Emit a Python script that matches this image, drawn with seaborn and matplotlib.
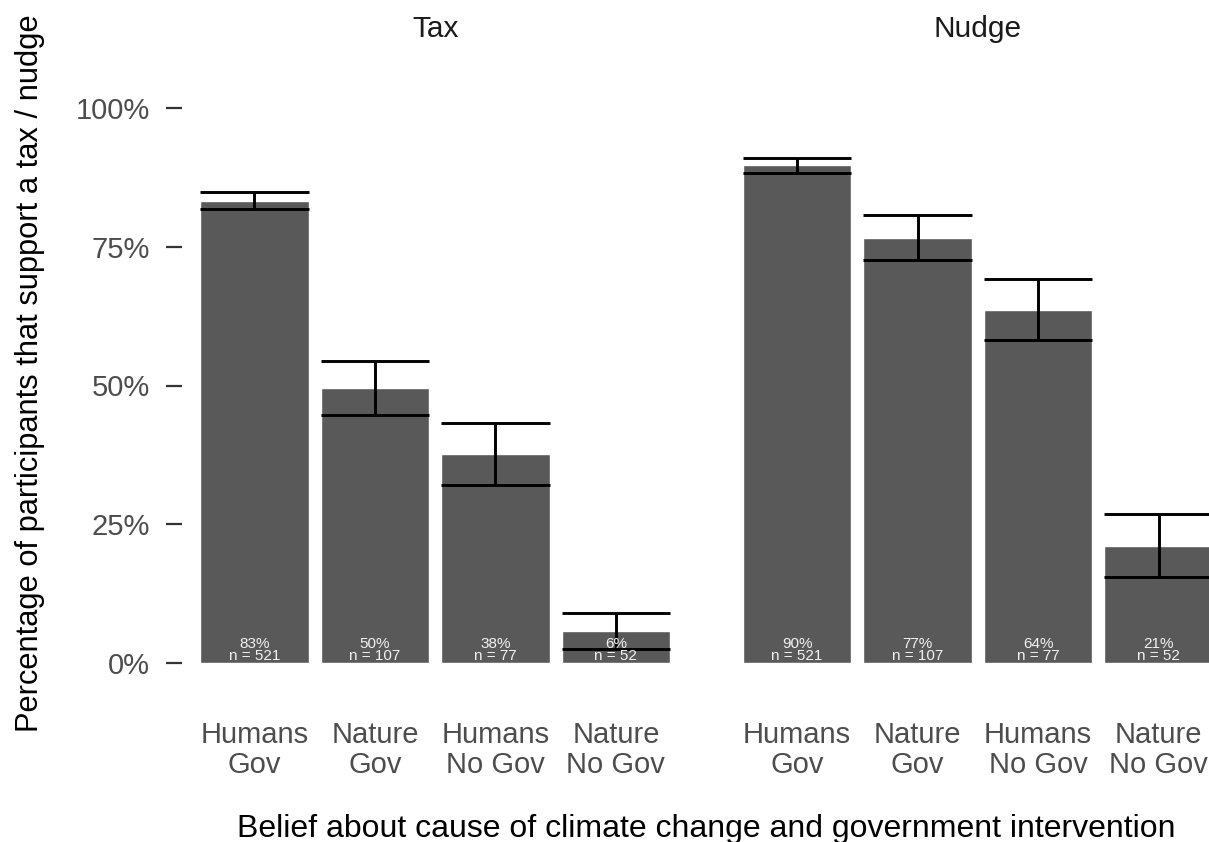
import matplotlib
matplotlib.use("Agg")
import matplotlib.pyplot as plt
import seaborn as sns
import pandas as pd

# Groups defined by belief about the cause of climate change and attitude to government
groups = ["Humans\nGov", "Nature\nGov", "Humans\nNo Gov", "Nature\nNo Gov"]
policies = ["Tax", "Nudge"]

# Group sizes and number of supporters for each policy
n_group = [521, 107, 77, 52]
support_tax = [434, 53, 29, 3]
support_nudge = [467, 82, 49, 11]

# Standard errors (proportion) for each bar
se_tax = [0.016, 0.048, 0.055, 0.032]
se_nudge = [0.013, 0.041, 0.055, 0.057]

yticks = [0.0, 0.25, 0.50, 0.75, 1.0]
ytick_labels = ["0%", "25%", "50%", "75%", "100%"]

sns.set_theme(style="white")
plt.rcParams["font.family"] = ["Liberation Sans", "DejaVu Sans"]

W, H = 1209, 842
fig = plt.figure(figsize=(W / 100, H / 100), dpi=100)

panel_top, panel_bottom = 80, 691
panel_w = 506
lefts = [182.2, 724.9]

frames = []
for policy, counts, se in [("Tax", support_tax, se_tax), ("Nudge", support_nudge, se_nudge)]:
    frames.append(pd.DataFrame({
        "policy": policy,
        "group": groups,
        "n": n_group,
        "support": counts,
        "se": se,
    }))
df = pd.concat(frames, ignore_index=True)
df["prop"] = df["support"] / df["n"]

bar_color = "#595959"
for k, policy in enumerate(policies):
    ax = fig.add_axes([lefts[k] / W, (H - panel_bottom) / H, panel_w / W,
                       (panel_bottom - panel_top) / H])
    sub = df[df["policy"] == policy].reset_index(drop=True)
    sns.barplot(data=sub, x="group", y="prop", order=groups, color=bar_color,
                saturation=1, width=0.9, errorbar=None, ax=ax)
    # error bars spanning the full bar width
    for i, row in sub.iterrows():
        lo, hi = row["prop"] - row["se"], row["prop"] + row["se"]
        ax.hlines([lo, hi], i - 0.45, i + 0.45, color="black", lw=2.1, zorder=3)
        ax.vlines(i, lo, hi, color="black", lw=2.1, zorder=3)
        ax.text(i, 0, f"{row['prop'] * 100:.0f}%\nn = {row['n']}", ha="center",
                va="bottom", color="#F2F2F2", fontsize=11, linespacing=0.85, zorder=4)
    ax.set_xlim(-0.6, 3.6)
    ax.set_ylim(-0.05, 1.05)
    for s in ax.spines.values():
        s.set_visible(False)
    ax.set_xlabel("")
    ax.set_ylabel("")
    ax.tick_params(axis="x", length=0, pad=21.5, labelsize=21, labelcolor="#4D4D4D")
    for lbl in ax.get_xticklabels():
        lbl.set_linespacing(1.1)
    if k == 0:
        ax.set_yticks(yticks)
        ax.set_yticklabels(ytick_labels)
        ax.tick_params(axis="y", length=11.5, width=1.6, color="#333333", pad=12,
                       labelsize=21, labelcolor="#4D4D4D", left=True)
    else:
        ax.set_yticks([])
    ax.set_title(policy, fontsize=21.5, color="#1A1A1A", pad=31.2)
    ax.grid(False)
    ax.set_facecolor("white")

fig.text(706 / W, (H - 837) / H,
         "Belief about cause of climate change and government intervention",
         ha="center", va="baseline", fontsize=23, color="black")
fig.text(30 / W, (H - 373) / H,
         "Percentage of participants that support a tax / nudge",
         ha="center", va="center", rotation=90, fontsize=22.2, color="black")

fig.savefig("out.png", dpi=100, facecolor="white")
